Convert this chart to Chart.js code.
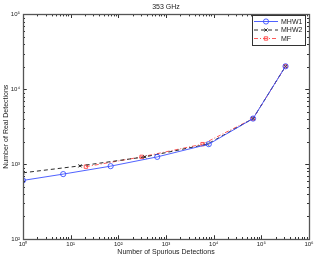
<!DOCTYPE html>
<html>
<head>
<meta charset="utf-8">
<script src="https://cdn.jsdelivr.net/npm/chart.js@4/dist/chart.umd.min.js"></script>
<style>
html,body{margin:0;padding:0;background:#fff;}
canvas{display:block;}
</style>
</head>
<body>
<canvas id="c" width="316" height="260" style="width:316px;height:260px"></canvas>
<script>
const chartTitle = '353 GHz';
const xTitle = 'Number of Spurious Detections';
const yTitle = 'Number of Real Detections';
const seriesNames = ['MHW1', 'MHW2', 'MF'];
const xDecades = [1, 10, 100, 1000, 10000, 100000, 1000000];
const yDecades = [100, 1000, 10000, 100000];
const supDigits = ['⁰','¹','²','³','⁴','⁵','⁶','⁷','⁸','⁹'];

const mhw1X = [1, 6.97, 69, 654, 7900, 67000, 322000];
const mhw1Y = [606, 736, 940, 1250, 1848, 4060, 20270];
const mhw2X = [1, 15.7, 362, 7400, 67000, 322000];
const mhw2Y = [766, 948, 1250, 1848, 4060, 20270];
const mfX = [20.9, 308, 5850, 67000, 322000];
const mfY = [925, 1250, 1848, 4060, 20270];

const FONT = "'Liberation Sans', Arial, Helvetica, sans-serif";
const BLUE = 'rgb(60,80,255)';
const BLACK = 'rgb(20,20,20)';
const RED = 'rgb(255,70,70)';

function pts(xs, ys){ return xs.map((x,i)=>({x:x, y:ys[i]})); }
function decLabel(v){
  const k = Math.round(Math.log10(v));
  if (Math.abs(Math.pow(10,k) - v) > 1e-6 * v) return null;
  return '10' + supDigits[k];
}

const styles = [
  {color: BLUE, dash: [], point: 'circle', r: 2.6},
  {color: BLACK, dash: [4,3], point: 'crossRot', r: 2.2},
  {color: RED, dash: [4,2,1,2], point: 'rect', r: 2.4}
];

const boxTicks = {
  id: 'boxTicks',
  afterDraw(chart){
    const ctx = chart.ctx;
    const a = chart.chartArea;
    const xs = chart.scales.x, ys = chart.scales.y;
    ctx.save();
    ctx.strokeStyle = '#333';
    ctx.lineWidth = 1;
    ctx.beginPath();
    for (let k = 0; k < 6; k++) {
      for (let m = 1; m <= 10; m++) {
        const v = m * Math.pow(10, k);
        if (v > 1e6) continue;
        const px = Math.round(xs.getPixelForValue(v)) + 0.5;
        const len = (m === 1 || m === 10) ? 3.5 : 2;
        ctx.moveTo(px, a.bottom); ctx.lineTo(px, a.bottom - len);
        ctx.moveTo(px, a.top); ctx.lineTo(px, a.top + len);
      }
    }
    for (let k = 2; k < 5; k++) {
      for (let m = 1; m <= 10; m++) {
        const v = m * Math.pow(10, k);
        const py = Math.round(ys.getPixelForValue(v)) + 0.5;
        const len = (m === 1 || m === 10) ? 3.5 : 2;
        ctx.moveTo(a.left, py); ctx.lineTo(a.left + len, py);
        ctx.moveTo(a.right, py); ctx.lineTo(a.right - len, py);
      }
    }
    ctx.stroke();
    ctx.lineWidth = 1.3;
    ctx.strokeStyle = '#555';
    ctx.strokeRect(Math.round(a.left)+0.5, Math.round(a.top)+0.5, Math.round(a.right-a.left), Math.round(a.bottom-a.top));

    // legend
    const bx = 252, by = 15, bw = 53, bh = 30;
    ctx.fillStyle = '#fff';
    ctx.fillRect(bx, by, bw, bh);
    ctx.lineWidth = 1;
    ctx.strokeStyle = '#333';
    ctx.strokeRect(bx+0.5, by+0.5, bw, bh);
    const rows = [21.5, 30, 38.5];
    ctx.font = '7px ' + FONT;
    ctx.textBaseline = 'middle';
    ctx.textAlign = 'left';
    seriesNames.forEach((name, i) => {
      const s = styles[i];
      const y = rows[i];
      ctx.strokeStyle = s.color;
      ctx.lineWidth = 0.9;
      ctx.setLineDash(s.dash);
      ctx.beginPath(); ctx.moveTo(254, y); ctx.lineTo(278, y); ctx.stroke();
      ctx.setLineDash([]);
      ctx.fillStyle = 'rgba(0,0,0,0)';
      Chart.helpers.drawPoint(ctx, {pointStyle: s.point, radius: s.r, borderWidth: 0.9}, 266, y);
      ctx.fillStyle = '#222';
      ctx.fillText(name, 281, y + 0.5);
    });
    ctx.restore();
  }
};

const datasets = [
  {label: seriesNames[0], data: pts(mhw1X, mhw1Y)},
  {label: seriesNames[1], data: pts(mhw2X, mhw2Y)},
  {label: seriesNames[2], data: pts(mfX, mfY)}
].map((d, i) => Object.assign(d, {
  borderColor: styles[i].color,
  backgroundColor: 'rgba(0,0,0,0)',
  borderWidth: 0.9,
  borderDash: styles[i].dash,
  pointStyle: styles[i].point,
  pointRadius: styles[i].r,
  pointBorderWidth: 0.9,
  pointBorderColor: styles[i].color,
  pointBackgroundColor: 'rgba(0,0,0,0)',
  tension: 0,
  fill: false
}));

new Chart(document.getElementById('c'), {
  type: 'line',
  data: {datasets: datasets},
  options: {
    responsive: false,
    devicePixelRatio: 1,
    animation: false,
    layout: {padding: {left: 0, right: 7, top: 0, bottom: 0}},
    plugins: {
      legend: {display: false},
      tooltip: {enabled: false},
      title: {
        display: true, text: chartTitle, fullSize: false,
        color: '#222', font: {family: FONT, size: 7, weight: 'normal'},
        padding: {top: 3, bottom: 3}
      }
    },
    scales: {
      x: {
        type: 'logarithmic', position: 'bottom', min: 1, max: 1000000,
        afterBuildTicks: s => { s.ticks = xDecades.map(v => ({value: v, major: true})); },
        afterFit: s => { s.height = 21; },
        grid: {display: false, drawTicks: false},
        border: {display: false},
        ticks: {
          autoSkip: false, maxRotation: 0, padding: 2, color: '#222',
          font: {family: FONT, size: 6},
          callback: v => decLabel(v)
        },
        title: {display: true, text: xTitle, color: '#222',
          font: {family: FONT, size: 7}, padding: {top: 0, bottom: 4}}
      },
      y: {
        type: 'logarithmic', position: 'left', min: 100, max: 100000,
        afterBuildTicks: s => { s.ticks = yDecades.map(v => ({value: v, major: true})); },
        afterFit: s => { s.width = 23; },
        grid: {display: false, drawTicks: false},
        border: {display: false},
        ticks: {
          autoSkip: false, padding: 3, color: '#222',
          font: {family: FONT, size: 6},
          callback: v => decLabel(v)
        },
        title: {display: true, text: yTitle, color: '#222',
          font: {family: FONT, size: 7}, padding: {top: 1.5, bottom: 0}}
      }
    }
  },
  plugins: [boxTicks]
});
</script>
</body>
</html>
